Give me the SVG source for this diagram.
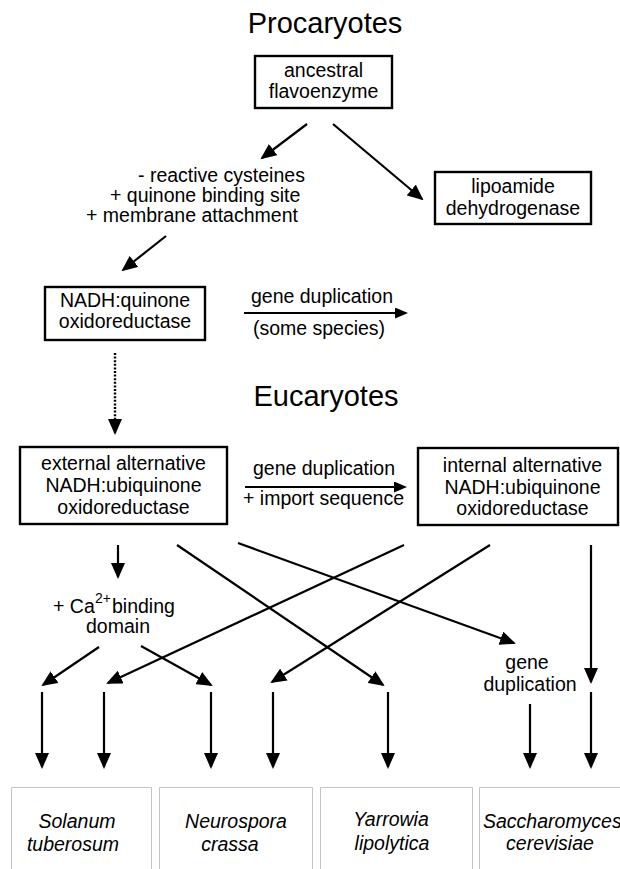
<svg xmlns="http://www.w3.org/2000/svg" width="620" height="869" viewBox="0 0 620 869">
<style>
text{font-family:"Liberation Sans",Arial,sans-serif;font-size:19.5px;fill:#000}
.t{text-anchor:middle}
.h{font-size:29px;text-anchor:middle}
.i{font-style:italic}
.box{fill:#fff;stroke:#000;stroke-width:2.4}
.sp{fill:none;stroke:#c4c4c4;stroke-width:1}
.c line{stroke:#000;stroke-width:2.2;marker-end:url(#ah)}
.c line.hz{marker-end:url(#as)}
.c line.dot{stroke-dasharray:2 1.6;stroke-width:2.4}
</style>
<defs>
<marker id="ah" viewBox="0 0 16 14" markerWidth="16" markerHeight="14" refX="14" refY="7" orient="auto" markerUnits="userSpaceOnUse">
<path d="M0,0 L16,7 L0,14 z" fill="#000"/>
</marker>
<marker id="as" viewBox="0 0 13 11" markerWidth="13" markerHeight="11" refX="11" refY="5.5" orient="auto" markerUnits="userSpaceOnUse">
<path d="M0,0 L13,5.5 L0,11 z" fill="#000"/>
</marker>
</defs>
<rect width="620" height="869" fill="#fff"/>

<text class="h" x="325" y="33">Procaryotes</text>
<text class="h" x="326" y="406">Eucaryotes</text>

<g id="ancestral">
<rect class="box" x="255" y="56" width="137" height="52"/>
<text class="t" x="323.5" y="77">ancestral</text>
<text class="t" x="323.5" y="98">flavoenzyme</text>
</g>
<g id="lipoamide">
<rect class="box" x="435" y="172" width="156" height="52"/>
<text class="t" x="513" y="193">lipoamide</text>
<text class="t" x="513" y="215">dehydrogenase</text>
</g>
<g id="modifications">
<text x="138" y="182">- reactive cysteines</text>
<text x="110" y="202">+ quinone binding site</text>
<text x="86" y="222">+ membrane attachment</text>
</g>
<g id="nadh-quinone">
<rect class="box" x="45" y="287" width="160" height="53"/>
<text class="t" x="125" y="307">NADH:quinone</text>
<text class="t" x="125" y="328">oxidoreductase</text>
</g>
<g id="dup1-label">
<text class="t" x="322" y="303">gene duplication</text>
<text class="t" x="319" y="335">(some species)</text>
</g>
<g id="external">
<rect class="box" x="20" y="447" width="207" height="77"/>
<text class="t" x="123.5" y="470">external alternative</text>
<text class="t" x="123.5" y="492">NADH:ubiquinone</text>
<text class="t" x="123.5" y="514">oxidoreductase</text>
</g>
<g id="dup2-label">
<text class="t" x="324" y="475">gene duplication</text>
<text class="t" x="323.5" y="505">+ import sequence</text>
</g>
<g id="internal">
<rect class="box" x="418" y="448" width="200" height="77"/>
<text class="t" x="522.5" y="472">internal alternative</text>
<text class="t" x="522.5" y="494">NADH:ubiquinone</text>
<text class="t" x="522.5" y="515">oxidoreductase</text>
</g>
<g id="ca-binding">
<text x="53" y="613">+ Ca<tspan x="95" y="603" font-size="14">2+</tspan><tspan x="112" y="613">binding</tspan></text>
<text class="t" x="118" y="633">domain</text>
</g>
<g id="dup3-label">
<text class="t" x="527" y="669">gene</text>
<text class="t" x="530" y="691">duplication</text>
</g>

<g id="solanum">
<path class="sp" d="M11.5,869 V787.5 H151.5 V869"/>
<text class="t i" x="77" y="828">Solanum</text>
<text class="t i" x="73" y="851">tuberosum</text>
</g>
<g id="neurospora">
<path class="sp" d="M159.5,869 V787.5 H312.5 V869"/>
<text class="t i" x="236" y="828">Neurospora</text>
<text class="t i" x="230" y="851">crassa</text>
</g>
<g id="yarrowia">
<path class="sp" d="M320.5,869 V787.5 H472.5 V869"/>
<text class="t i" x="391" y="826">Yarrowia</text>
<text class="t i" x="392" y="850">lipolytica</text>
</g>
<g id="saccharomyces">
<path class="sp" d="M479.5,869 V787.5 H620"/>
<text class="i" x="483" y="828" font-size="17">Saccharomyces</text>
<text class="t i" x="550" y="850">cerevisiae</text>
</g>

<g id="connectors" class="c">
<line x1="307" y1="124" x2="262" y2="158"/>
<line x1="333" y1="124" x2="422" y2="199"/>
<line x1="166" y1="236" x2="123" y2="270"/>
<line class="hz" x1="244" y1="313" x2="406" y2="313"/>
<line class="dot" x1="115" y1="353" x2="115" y2="433"/>
<line class="hz" x1="245" y1="487" x2="405" y2="487"/>
<line x1="118" y1="545" x2="118" y2="577"/>
<line x1="177" y1="545" x2="383" y2="685"/>
<line x1="238" y1="543" x2="514" y2="643"/>
<line x1="404" y1="545" x2="108" y2="683"/>
<line x1="490" y1="545" x2="272" y2="682"/>
<line x1="591" y1="545" x2="591" y2="682"/>
<line x1="99" y1="647" x2="43" y2="685"/>
<line x1="141" y1="646" x2="211" y2="685"/>
<line x1="42" y1="692" x2="42" y2="767"/>
<line x1="104" y1="692" x2="104" y2="767"/>
<line x1="211" y1="692" x2="211" y2="767"/>
<line x1="273" y1="692" x2="273" y2="767"/>
<line x1="388" y1="692" x2="388" y2="767"/>
<line x1="530" y1="704" x2="530" y2="767"/>
<line x1="591" y1="692" x2="591" y2="767"/>
</g>
</svg>
